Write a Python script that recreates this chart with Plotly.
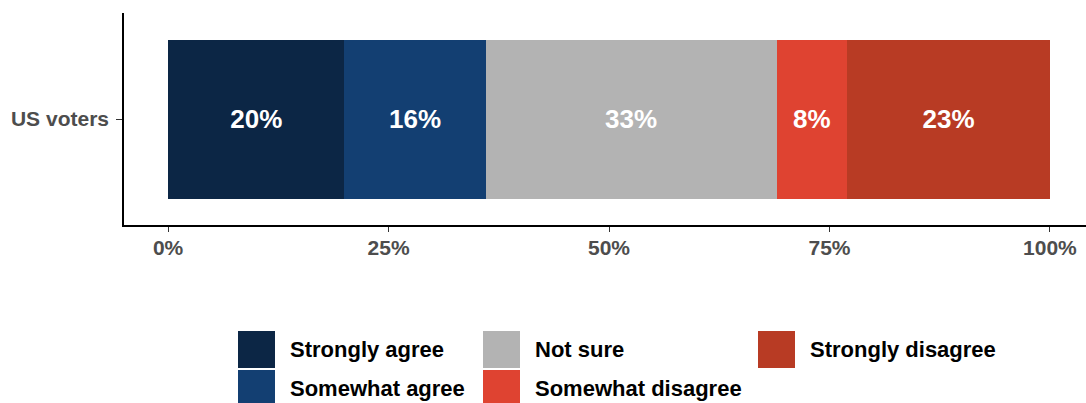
import plotly.graph_objects as go

# Survey responses, share of US voters (percent)
groups = ["US voters"]
responses = ["Strongly agree", "Somewhat agree", "Not sure", "Somewhat disagree", "Strongly disagree"]
shares = [20, 16, 33, 8, 23]
colors = ["#0c2645", "#133f72", "#b3b3b3", "#df4331", "#b83b24"]
x_ticks = [0, 25, 50, 75, 100]
x_tick_labels = ["0%", "25%", "50%", "75%", "100%"]

W, H = 1086, 403
ML, MR, MT, MB = 124, 0, 13, 178
FONT = "Liberation Sans, Arial, sans-serif"

fig = go.Figure()
for name, val, col in zip(responses, shares, colors):
    fig.add_trace(go.Bar(
        y=groups, x=[val], name=name, orientation="h",
        marker=dict(color=col, line=dict(width=0)),
        width=0.9,
        text=[f"{val}%"], textposition="inside", insidetextanchor="middle",
        textfont=dict(family=FONT, size=26, color="white", weight="bold"),
        textangle=0, showlegend=False, hoverinfo="skip",
    ))

fig.update_layout(
    width=W, height=H, barmode="stack",
    margin=dict(l=ML, r=MR, t=MT, b=MB, pad=0),
    paper_bgcolor="white", plot_bgcolor="white",
    font=dict(family=FONT),
    uniformtext=dict(minsize=26, mode="show"),
    xaxis=dict(
        range=[-5, 104.09], tickvals=x_ticks, ticktext=x_tick_labels,
        showgrid=False, zeroline=False,
        showline=True, linecolor="black", linewidth=1.6,
        ticks="outside", ticklen=5, tickwidth=1.4, tickcolor="#333333",
        tickfont=dict(family=FONT, size=21, color="#4d4d4d", weight="bold"),
        ticklabelstandoff=-2,
    ),
    yaxis=dict(
        range=[-0.6, 0.6], showgrid=False, zeroline=False,
        showline=True, linecolor="black", linewidth=1.6,
        ticks="outside", ticklen=6, tickwidth=1.4, tickcolor="#333333",
        tickfont=dict(family=FONT, size=21, color="#4d4d4d", weight="bold"),
        ticklabelstandoff=3,
    ),
)

# Legend drawn as large keys with labels, laid out in three columns
def px_x(p):
    return (p - ML) / (W - ML - MR)

def px_y(p):
    return (H - MB - p) / (H - MB - MT)

legend_cols = [238, 483, 758]
legend_rows = [331, 370]
key = 37
order = ["Strongly agree", "Somewhat agree", "Not sure", "Somewhat disagree", "Strongly disagree"]
for i, name in enumerate(order):
    c, r = divmod(i, 2)
    col = colors[responses.index(name)]
    x0, y0 = legend_cols[c], legend_rows[r]
    fig.add_shape(type="rect", xref="paper", yref="paper",
                  x0=px_x(x0), x1=px_x(x0 + key), y0=px_y(y0 + key), y1=px_y(y0),
                  fillcolor=col, line=dict(width=0), layer="above")
    fig.add_annotation(xref="paper", yref="paper", x=px_x(x0 + 50), y=px_y(y0 + key / 2),
                       text=name, showarrow=False, xanchor="left", yanchor="middle",
                       font=dict(family=FONT, size=22, color="black", weight="bold"))

fig.write_html("out.html")
